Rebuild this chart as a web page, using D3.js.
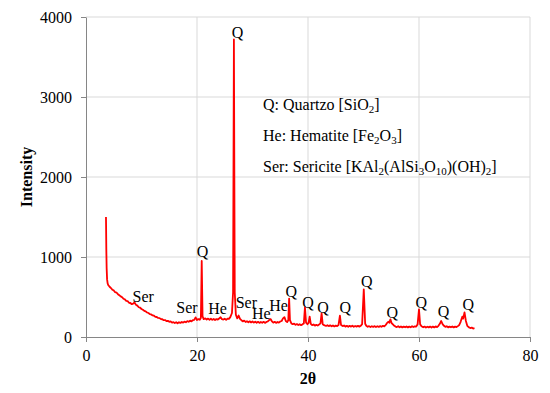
<!DOCTYPE html>
<html>
<head>
<meta charset="utf-8">
<script src="https://cdn.jsdelivr.net/npm/d3@7/dist/d3.min.js"></script>
<style>
  body { margin: 0; background: #fff; }
  svg text { font-family: 'Liberation Serif', 'Times New Roman', serif; fill: #000; }
  .grid line { stroke: #d9d9d9; stroke-width: 1; }
  .axis path, .axis line { stroke: #868686; }
  .axis text { font-size: 16px; }
  .trace { fill: none; stroke: #ff0000; stroke-width: 1.8; stroke-linejoin: round; }
  .peak-label { font-size: 16px; text-anchor: middle; }
  .legend { font-size: 16px; }
  .axis-title { font-size: 16px; font-weight: bold; text-anchor: middle; }
</style>
</head>
<body>
<svg width="550" height="393"></svg>
<script>
// x ticks (2θ) and y ticks (intensity)
var xTicks = [0, 20, 40, 60, 80];
var yTicks = [0, 1000, 2000, 3000, 4000];

// XRD pattern: [2θ, intensity]
var xrdTrace = [
  [3.60,1500],[3.62,1380],[3.66,1100],[3.72,860],[3.80,720],[3.90,670],
  [4.00,650],[4.25,628],[4.50,612],[4.75,590],[5.00,582],[5.25,560],[5.50,556],[5.75,535],
  [6.00,522],[6.25,508],[6.50,498],[6.75,478],[7.00,470],[7.25,452],[7.50,448],[7.75,428],
  [8.00,425],[8.25,410],[8.50,418],[8.75,432],[9.00,402],[9.25,392],[9.50,372],[9.75,366],
  [10.00,350],[10.25,340],[10.50,326],[10.75,320],[11.00,306],[11.25,300],[11.50,286],[11.75,282],
  [12.00,270],[12.25,266],[12.50,252],[12.75,250],[13.00,238],[13.25,236],[13.50,224],[13.75,222],
  [14.00,210],[14.25,212],[14.50,198],[14.75,202],[15.00,190],[15.25,194],[15.50,180],[15.75,186],
  [16.00,174],[16.25,184],[16.50,172],[16.75,184],[17.00,176],[17.25,188],[17.50,180],[17.75,192],
  [18.00,184],[18.25,198],[18.50,190],[18.75,204],[19.00,196],[19.25,210],[19.50,214],[19.75,245],
  [20.00,212],[20.25,224],[20.50,216],[20.70,240],[20.85,950],[21.00,260],[21.20,224],[21.50,232],
  [21.75,218],[22.00,230],[22.25,216],[22.50,228],[22.75,214],[23.00,226],[23.25,212],[23.50,224],
  [23.75,218],[24.00,232],[24.25,246],[24.50,222],[24.75,218],[25.00,228],[25.25,214],[25.50,230],
  [25.75,226],[26.00,248],[26.30,300],[26.50,560],[26.65,3720],[26.80,560],[27.00,280],[27.25,232],
  [27.50,268],[27.75,226],[28.00,210],[28.25,196],[28.50,204],[28.75,188],[29.00,198],[29.25,184],
  [29.50,196],[29.75,182],[30.00,194],[30.25,180],[30.50,192],[30.75,178],[31.00,190],[31.25,176],
  [31.50,188],[31.75,178],[32.00,190],[32.25,176],[32.50,188],[32.75,194],[33.00,212],[33.25,224],
  [33.50,196],[33.75,180],[34.00,190],[34.25,176],[34.50,188],[34.75,180],[35.00,194],[35.25,200],
  [35.50,232],[35.75,248],[36.00,200],[36.25,186],[36.45,210],[36.60,480],[36.75,210],[37.00,170],
  [37.25,160],[37.50,168],[37.75,152],[38.00,162],[38.25,150],[38.50,160],[38.75,148],[39.00,158],
  [39.25,170],[39.45,370],[39.65,180],[39.90,160],[40.10,175],[40.30,255],[40.50,165],[40.75,148],
  [41.00,156],[41.25,142],[41.50,152],[41.75,144],[42.00,156],[42.25,170],[42.45,296],[42.65,160],
  [42.90,148],[43.25,138],[43.50,148],[43.75,136],[44.00,146],[44.25,134],[44.50,144],[44.75,132],
  [45.00,142],[45.25,136],[45.50,150],[45.75,267],[45.95,150],[46.25,136],[46.50,144],[46.75,130],
  [47.00,140],[47.25,128],[47.50,140],[47.75,130],[48.00,142],[48.25,128],[48.50,138],[48.75,130],
  [49.00,140],[49.25,130],[49.50,140],[49.75,160],[50.05,596],[50.30,165],[50.50,140],[50.75,128],
  [51.00,136],[51.25,124],[51.50,134],[51.75,126],[52.00,136],[52.25,124],[52.50,134],[52.75,126],
  [53.00,136],[53.25,128],[53.50,140],[53.75,132],[54.00,150],[54.25,176],[54.50,190],[54.65,178],
  [54.85,221],[55.05,175],[55.30,158],[55.55,140],[55.80,130],[56.00,124],[56.25,134],[56.50,122],
  [56.75,132],[57.00,120],[57.25,130],[57.50,122],[57.75,132],[58.00,120],[58.25,130],[58.50,122],
  [58.75,134],[59.00,124],[59.25,134],[59.50,130],[59.75,160],[60.00,346],[60.20,160],[60.45,134],
  [60.75,122],[61.00,130],[61.25,118],[61.50,128],[61.75,120],[62.00,130],[62.25,118],[62.50,130],
  [62.75,120],[63.00,132],[63.25,124],[63.50,140],[63.75,165],[64.00,200],[64.25,160],[64.50,140],
  [64.75,126],[65.00,134],[65.25,120],[65.50,130],[65.75,122],[66.00,132],[66.25,120],[66.50,130],
  [66.75,124],[67.00,136],[67.25,150],[67.50,190],[67.80,254],[67.95,230],[68.20,308],[68.45,200],
  [68.70,140],[69.00,120],[69.25,112],[69.50,118],[69.75,106],[70.00,110]
];

// phase labels: [text, 2θ, intensity at baseline of label]
var peakLabels = [
  ["Q", 27.3, 3740], ["Q", 21.0, 1000], ["Ser", 10.3, 437], ["Ser", 18.2, 300],
  ["He", 23.7, 288], ["Ser", 28.9, 366], ["He", 31.6, 225], ["He", 34.7, 329],
  ["Q", 37.0, 504], ["Q", 40.0, 359], ["Q", 42.7, 296], ["Q", 46.7, 296],
  ["Q", 50.6, 629], ["Q", 55.2, 234], ["Q", 60.4, 359], ["Q", 64.4, 246], ["Q", 68.9, 338]
];

// legend lines, pieces marked with "_" are subscripts
var legendLines = [
  ["Q: Quartzo [SiO", "_2", "]"],
  ["He: Hematite [Fe", "_2", "O", "_3", "]"],
  ["Ser: Sericite [KAl", "_2", "(AlSi", "_3", "O", "_10", ")(OH)", "_2", "]"]
];

var svg = d3.select("svg"),
    margin = {top: 17, right: 20, bottom: 56, left: 86},
    width = +svg.attr("width") - margin.left - margin.right,
    height = +svg.attr("height") - margin.top - margin.bottom;

var x = d3.scaleLinear().domain([0, 80]).range([0, width]),
    y = d3.scaleLinear().domain([0, 4000]).range([height, 0]);

var g = svg.append("g")
    .attr("transform", "translate(" + margin.left + "," + margin.top + ")");

// gridlines
var grid = g.append("g").attr("class", "grid");
grid.selectAll(".hg").data(yTicks.slice(1)).enter().append("line")
    .attr("x1", 0).attr("x2", width)
    .attr("y1", function(d) { return y(d); }).attr("y2", function(d) { return y(d); });
grid.selectAll(".vg").data(xTicks.slice(1)).enter().append("line")
    .attr("y1", 0).attr("y2", height)
    .attr("x1", function(d) { return x(d); }).attr("x2", function(d) { return x(d); });

// axes
g.append("g")
    .attr("class", "axis")
    .attr("transform", "translate(0," + height + ")")
    .call(d3.axisBottom(x).tickValues(xTicks).tickFormat(d3.format("d"))
      .tickSize(5).tickSizeOuter(0).tickPadding(8))
    .attr("font-family", "'Liberation Serif', serif")
    .attr("font-size", 16);

g.append("g")
    .attr("class", "axis")
    .call(d3.axisLeft(y).tickValues(yTicks).tickFormat(d3.format("d"))
      .tickSize(5).tickSizeOuter(0).tickPadding(9))
    .attr("font-family", "'Liberation Serif', serif")
    .attr("font-size", 16);

// trace
var line = d3.line()
    .x(function(d) { return x(d[0]); })
    .y(function(d) { return y(d[1]); });

g.append("path")
    .datum(xrdTrace)
    .attr("class", "trace")
    .attr("d", line);

// peak labels
g.selectAll(".peak-label").data(peakLabels).enter().append("text")
    .attr("class", "peak-label")
    .attr("x", function(d) { return x(d[1]); })
    .attr("y", function(d) { return y(d[2]); })
    .text(function(d) { return d[0]; });

// legend
legendLines.forEach(function(parts, i) {
  var row = g.append("text")
      .attr("class", "legend")
      .attr("x", 177)
      .attr("y", 93 + i * 31);
  var sub = false;
  parts.forEach(function(p) {
    if (p.charAt(0) === "_") {
      row.append("tspan").attr("font-size", "11px").attr("dy", sub ? 0 : 3).text(p.slice(1));
      sub = true;
    } else {
      row.append("tspan").attr("dy", sub ? -3 : 0).text(p);
      sub = false;
    }
  });
});

// axis titles
svg.append("text")
    .attr("class", "axis-title")
    .attr("transform", "translate(32,177) rotate(-90)")
    .text("Intensity");

svg.append("text")
    .attr("class", "axis-title")
    .attr("x", margin.left + x(40))
    .attr("y", 384)
    .text("2θ");
</script>
</body>
</html>
